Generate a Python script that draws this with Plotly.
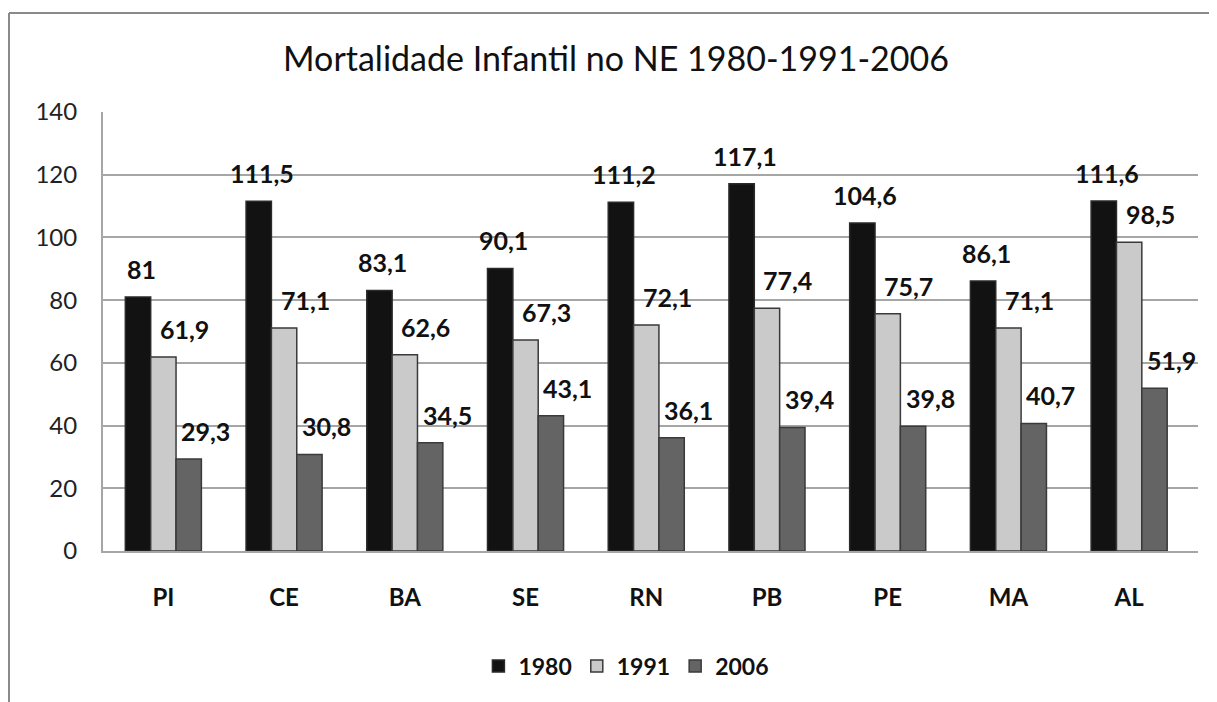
import plotly.graph_objects as go

categories = ["PI", "CE", "BA", "SE", "RN", "PB", "PE", "MA", "AL"]
v1980 = [81, 111.5, 83.1, 90.1, 111.2, 117.1, 104.6, 86.1, 111.6]
v1991 = [61.9, 71.1, 62.6, 67.3, 72.1, 77.4, 75.7, 71.1, 98.5]
v2006 = [29.3, 30.8, 34.5, 43.1, 36.1, 39.4, 39.8, 40.7, 51.9]
series_names = ["1980", "1991", "2006"]
y_ticks = [0, 20, 40, 60, 80, 100, 120, 140]

FONT = "Lato"
fills = ["#121212", "#cacaca", "#646464"]
lines = ["#2a2a2a", "#3a3a3a", "#3a3a3a"]
label_xshift = [3, 21, 17]

W, H = 1209, 694
L, T, R, B = 95, 104, 1190, 543  # plot area in figure pixels

def fmt(v):
    s = ("%.1f" % v).rstrip("0").rstrip(".")
    return s.replace(".", ",")

fig = go.Figure()
all_vals = [v1980, v1991, v2006]
for name, vals, fc, lc in zip(series_names, all_vals, fills, lines):
    fig.add_trace(go.Bar(
        x=categories, y=vals, name=name,
        marker=dict(color=fc, line=dict(color=lc, width=1.5)),
        offsetgroup=name,
    ))

# data labels (bold, comma decimals), offset like the original 3D chart
nser = len(series_names)
annotations = []
for si, vals in enumerate(all_vals):
    for ci, v in enumerate(vals):
        annotations.append(dict(
            x=ci + (si - 1) * (1 - 0.37) / nser, y=v, xref="x", yref="y",
            text="<b>" + fmt(v) + "</b>", showarrow=False,
            xshift=label_xshift[si], yshift=28,
            font=dict(family=FONT, size=25, color="#111111"),
        ))

pw, ph = R - L, B - T
bx = (1 - L) / pw
by = (B - 5) / ph

fig.update_layout(
    width=W, height=H,
    paper_bgcolor="white", plot_bgcolor="white",
    margin=dict(l=L, r=W - R, t=T, b=H - B),
    barmode="group", bargap=0.37, bargroupgap=0,
    title=dict(text="Mortalidade Infantil no NE 1980-1991-2006",
               x=608 / W, xanchor="center", y=1 - 51 / H, yanchor="middle",
               font=dict(family=FONT, size=34, color="#111111")),
    font=dict(family=FONT, color="#111111"),
    legend=dict(orientation="h", x=0.478, xanchor="center", y=-0.262, yanchor="middle",
                font=dict(family=FONT, size=23, color="#111111", weight="bold"),
                itemwidth=30, tracegroupgap=0, traceorder="normal"),
    annotations=annotations,
    shapes=[
        dict(type="line", xref="paper", yref="paper",
             x0=bx, x1=1.2, y0=by, y1=by,
             line=dict(color="#8a8a8a", width=2)),
        dict(type="line", xref="paper", yref="paper",
             x0=bx, x1=bx, y0=by, y1=-0.5,
             line=dict(color="#8a8a8a", width=2)),
    ],
)
fig.update_xaxes(
    type="category", categoryorder="array", categoryarray=categories,
    tickmode="array", tickvals=categories,
    ticktext=["<b>" + c + "</b>" for c in categories],
    tickfont=dict(family=FONT, size=24, color="#111111"),
    ticks="", ticklabelstandoff=24, automargin=False,
    showline=True, linecolor="#a6a6a6", linewidth=2, showgrid=False,
)
fig.update_yaxes(
    range=[0, 140], tickmode="array", tickvals=y_ticks,
    tickfont=dict(family=FONT, size=24, color="#222222"),
    ticks="", ticklabelstandoff=19, automargin=False,
    showgrid=True, gridcolor="#a6a6a6", gridwidth=2,
    showline=True, linecolor="#a6a6a6", linewidth=2, zeroline=False,
)

fig.write_html("out.html")
